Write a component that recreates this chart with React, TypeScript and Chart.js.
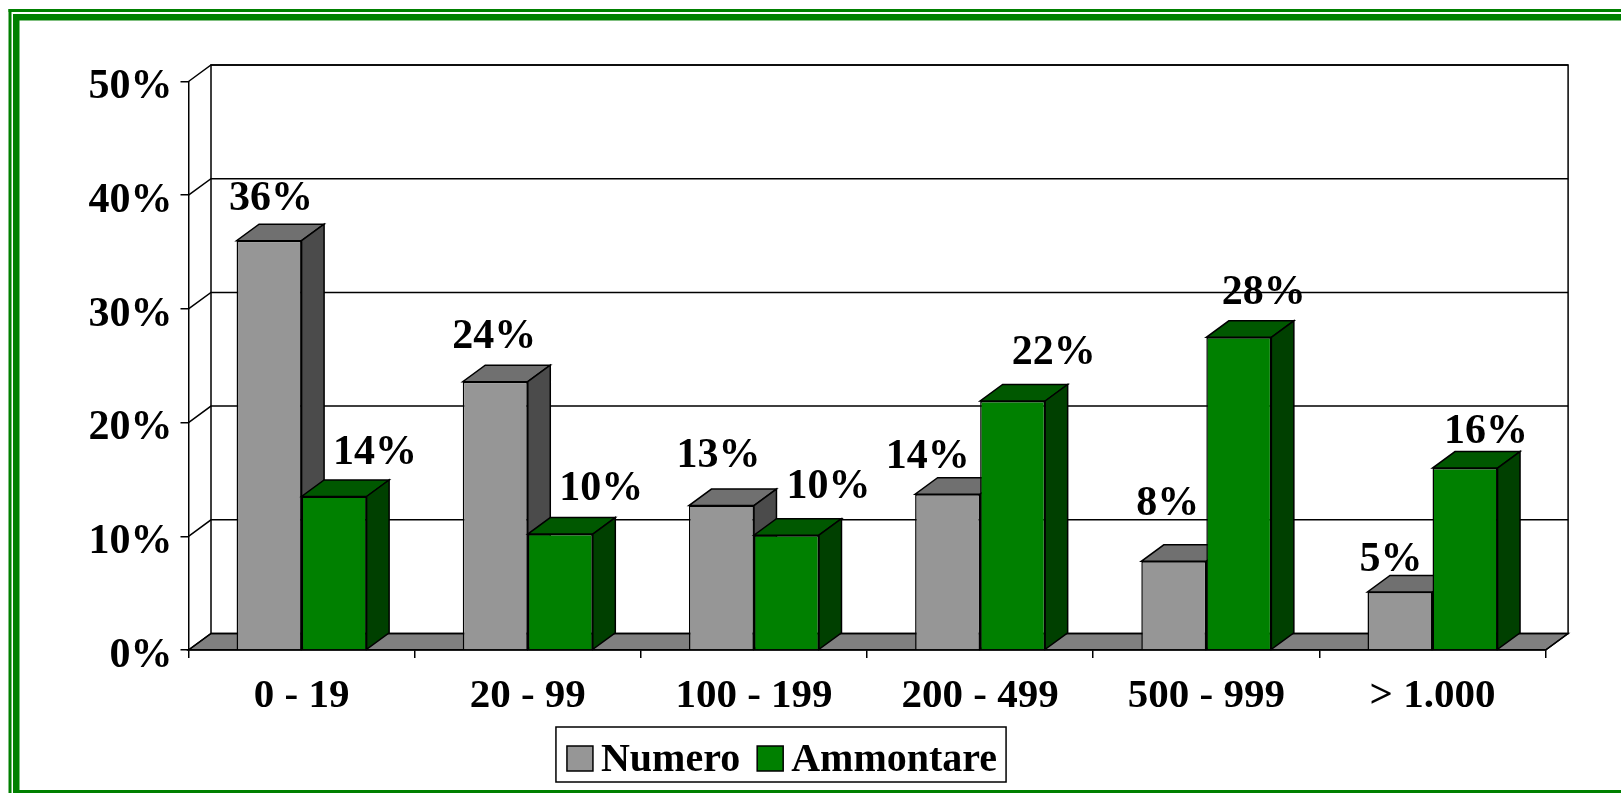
import React, { useEffect, useRef } from "react";
import { Chart, registerables } from "chart.js";

Chart.register(...registerables);

const categories = ["0 - 19", "20 - 99", "100 - 199", "200 - 499", "500 - 999", "> 1.000"];
const numero = [36.0, 23.6, 12.7, 13.7, 7.8, 5.1];
const ammontare = [13.5, 10.2, 10.1, 21.9, 27.5, 16.0];
const numeroLabels = ["36%", "24%", "13%", "14%", "8%", "5%"];
const ammontareLabels = ["14%", "10%", "10%", "22%", "28%", "16%"];
const yTicks = [0, 10, 20, 30, 40, 50];

// Offsets of the value labels from the front top-centre of their bars
const numeroNudgeX = [2, -1, -3, -20, -6, -9];
const numeroNudgeY = [-44.5, -47.5, -52.5, -40, -60, -34.5];
const ammontareNudgeX = [41, 41, 42, 41, 25, 21];
const ammontareNudgeY = [-46, -47.5, -51.5, -50.5, -47.5, -39];

const FONT = "'Liberation Serif', 'Times New Roman', serif";
const DX = 22.5;
const DY = 16.5;
const GREEN = "#008000";
const GRAY = "#969696";

const faces: Record<string, { top: string; side: string }> = {
  [GRAY]: { top: "#707070", side: "#4b4b4b" },
  [GREEN]: { top: "#005800", side: "#004000" },
};

function poly(ctx: CanvasRenderingContext2D, pts: number[][], fill?: string) {
  ctx.beginPath();
  pts.forEach((p, i) => (i ? ctx.lineTo(p[0], p[1]) : ctx.moveTo(p[0], p[1])));
  ctx.closePath();
  if (fill) {
    ctx.fillStyle = fill;
    ctx.fill();
  }
  ctx.stroke();
}

function drawFaces(chart: any, index: number) {
  const { ctx } = chart;
  const ds = chart.data.datasets[index];
  const f = faces[ds.backgroundColor];
  ctx.save();
  ctx.strokeStyle = "#000000";
  ctx.lineWidth = 1.5;
  chart.getDatasetMeta(index).data.forEach((bar: any) => {
    const p = bar.getProps(["x", "y", "base", "width"], true);
    const l = p.x - p.width / 2;
    const r = p.x + p.width / 2;
    poly(ctx, [[l, p.y], [r, p.y], [r + DX, p.y - DY], [l + DX, p.y - DY]], f.top);
    poly(ctx, [[r, p.y], [r + DX, p.y - DY], [r + DX, p.base - DY], [r, p.base]], f.side);
  });
  ctx.restore();
}

const threeD = {
  id: "threeD",
  afterLayout(chart: any) {
    const lg = chart.legend;
    lg.left = 0;
    lg.right = 1562;
    lg.top += 9;
    lg.bottom += 9;
  },
  beforeDraw(chart: any) {
    const { ctx, chartArea: a, scales } = chart;
    const W = chart.width;
    const H = chart.height;
    ctx.save();
    ctx.fillStyle = "#ffffff";
    ctx.fillRect(0, 0, W, H);
    // page frame
    ctx.fillStyle = GREEN;
    ctx.fillRect(8.5, 9, W, 3);
    ctx.fillRect(8.5, 9, 3, H);
    ctx.fillRect(13, 14, W, 6.5);
    ctx.fillRect(13, 14, 6.5, H);
    ctx.fillRect(13, 790, W, 3);

    ctx.strokeStyle = "#000000";
    ctx.lineWidth = 1.5;
    // floor
    poly(ctx, [[a.left, a.bottom], [a.right, a.bottom], [a.right + DX, a.bottom - DY], [a.left + DX, a.bottom - DY]], "#808080");
    // back wall and gridlines
    ctx.strokeRect(a.left + DX, a.top - DY, a.right - a.left, a.bottom - a.top);
    ctx.beginPath();
    yTicks.forEach((v) => {
      const y = scales.y.getPixelForValue(v);
      ctx.moveTo(a.left, y);
      ctx.lineTo(a.left + DX, y - DY);
      if (v > 0) ctx.lineTo(a.right + DX, y - DY);
    });
    ctx.moveTo(a.right, a.bottom);
    ctx.lineTo(a.right + DX, a.bottom - DY);
    ctx.stroke();
    // legend box
    const boxes = chart.legend.legendHitBoxes;
    if (boxes && boxes.length) {
      const first = boxes[0];
      const last = boxes[boxes.length - 1];
      const bx = first.left - 9;
      const by = first.top - 14;
      const bw = last.left + last.width + 9 - bx;
      ctx.fillStyle = "#ffffff";
      ctx.fillRect(bx, by, bw, 55);
      ctx.strokeRect(bx, by, bw, 55);
    }
    ctx.restore();
  },
  // Numero has to be painted under Ammontare, so the paint order is set here
  beforeDatasetDraw(chart: any, args: any) {
    if (args.index === 1) return false;
    drawFaces(chart, 0);
    return true;
  },
  afterDatasetDraw(chart: any, args: any) {
    if (args.index === 0) {
      drawFaces(chart, 1);
      chart.getDatasetMeta(1).controller.draw();
    }
  },
  afterDatasetsDraw(chart: any) {
    const { ctx } = chart;
    const sets = [
      { i: 0, labels: numeroLabels, nx: numeroNudgeX, ny: numeroNudgeY },
      { i: 1, labels: ammontareLabels, nx: ammontareNudgeX, ny: ammontareNudgeY },
    ];
    ctx.save();
    ctx.fillStyle = "#000000";
    ctx.font = `bold 42px ${FONT}`;
    ctx.textAlign = "center";
    ctx.textBaseline = "middle";
    sets.forEach((s) => {
      chart.getDatasetMeta(s.i).data.forEach((bar: any, k: number) => {
        const p = bar.getProps(["x", "y"], true);
        ctx.fillText(s.labels[k], p.x + s.nx[k], p.y + s.ny[k] + 3);
      });
    });
    ctx.restore();
  },
  afterDraw(chart: any) {
    const { ctx } = chart;
    const boxes = chart.legend.legendHitBoxes || [];
    ctx.save();
    ctx.strokeStyle = "#000000";
    ctx.lineWidth = 1.5;
    boxes.forEach((b: any, i: number) => {
      ctx.fillStyle = chart.data.datasets[i].backgroundColor;
      ctx.fillRect(b.left + 2, b.top + 5, 26, 25);
      ctx.strokeRect(b.left + 2, b.top + 5, 26, 25);
    });
    ctx.restore();
  },
};

export default function App() {
  const ref = useRef<HTMLCanvasElement | null>(null);
  useEffect(() => {
    const prevMargin = document.body.style.margin;
    document.body.style.margin = "0";
    const chart = new Chart(ref.current as HTMLCanvasElement, {
      type: "bar",
      data: {
        labels: categories,
        datasets: [
          { label: "Numero", data: numero, backgroundColor: GRAY, borderColor: "#000000", borderWidth: 1.5 },
          { label: "Ammontare", data: ammontare, backgroundColor: GREEN, borderColor: "#000000", borderWidth: 1.5 },
        ],
      },
      options: {
        responsive: false,
        animation: false,
        devicePixelRatio: 1,
        layout: { padding: { top: 81.5, right: 75.4, bottom: 11, left: 0 } },
        datasets: { bar: { categoryPercentage: 0.575, barPercentage: 1 } },
        scales: {
          x: {
            grid: { drawOnChartArea: false, drawTicks: true, tickLength: 8, color: "#000000", lineWidth: 1.5, offset: true },
            border: { display: true, color: "#000000", width: 1.5 },
            ticks: { font: { family: FONT, size: 41, weight: "bold" }, color: "#000000", padding: 14, maxRotation: 0, autoSkip: false },
            afterFit: (s: any) => {
              s.height = 67;
            },
          },
          y: {
            min: 0,
            max: 50,
            grid: { drawOnChartArea: false, drawTicks: true, tickLength: 8, color: "#000000", lineWidth: 1.5 },
            border: { display: true, color: "#000000", width: 1.5 },
            ticks: {
              font: { family: FONT, size: 42, weight: "bold" },
              color: "#000000",
              padding: 8,
              stepSize: 10,
              labelOffset: 6,
              callback: (v: any) => `${v}%`,
            },
            afterFit: (s: any) => {
              s.width = 188.5;
            },
          },
        },
        plugins: {
          title: { display: false },
          tooltip: { enabled: false },
          legend: {
            display: true,
            position: "bottom",
            labels: {
              font: { family: FONT, size: 40, weight: "bold" },
              color: "#000000",
              boxWidth: 16,
              padding: 15,
              generateLabels: (c: any) =>
                (Chart.defaults.plugins.legend.labels as any).generateLabels(c).map((l: any) => ({
                  ...l,
                  fillStyle: "rgba(0,0,0,0)",
                  strokeStyle: "rgba(0,0,0,0)",
                  lineWidth: 0,
                })),
            },
          },
        },
      },
      plugins: [threeD as any],
    });
    return () => {
      chart.destroy();
      document.body.style.margin = prevMargin;
    };
  }, []);
  return (
    <canvas
      ref={ref}
      width={1621}
      height={793}
      style={{ display: "block", position: "absolute", left: 0, top: 0, width: 1621, height: 793 }}
    />
  );
}
